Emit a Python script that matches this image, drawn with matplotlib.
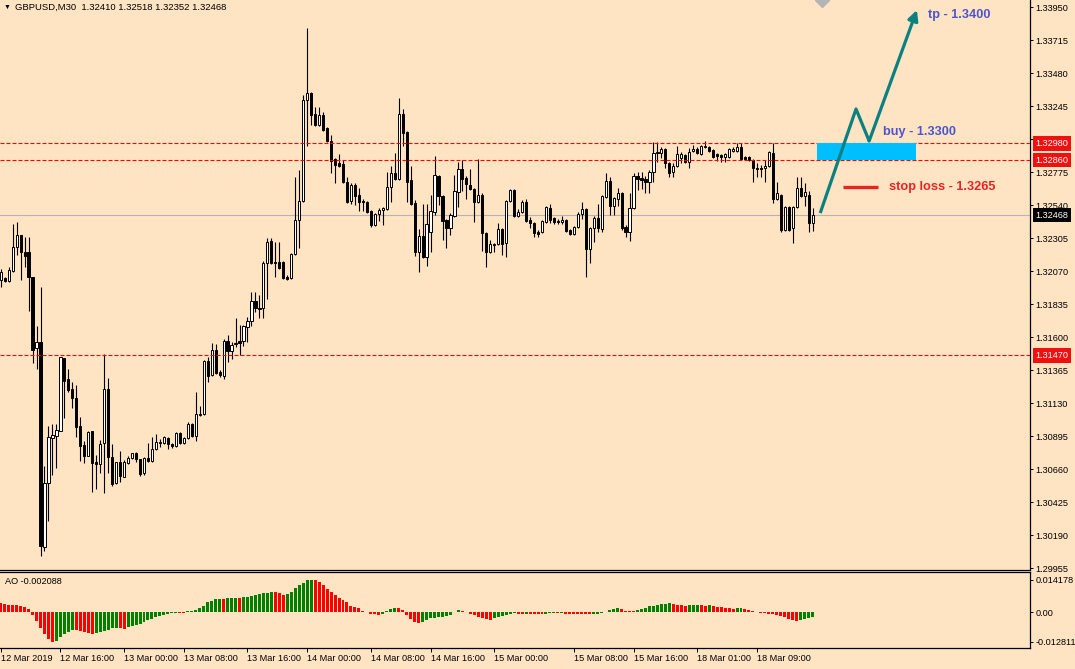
import numpy as np
import matplotlib
matplotlib.use('Agg')
import matplotlib.pyplot as plt
from matplotlib.transforms import blended_transform_factory

plt.rcParams['font.family'] = ['Liberation Sans', 'DejaVu Sans']

# GBPUSD M30 candles (oldest first)
opens = [
    1.32006, 1.32021, 1.31999, 1.32070, 1.32241, 1.32327, 1.32206, 1.32206, 1.32028, 1.31522,
    1.31565, 1.30105, 1.30561, 1.30881, 1.30896, 1.30931, 1.31451, 1.31302, 1.31230, 1.31166,
    1.30967, 1.30832, 1.30753, 1.30931, 1.30711, 1.30696, 1.30846, 1.31230, 1.30746, 1.30561,
    1.30711, 1.30604, 1.30703, 1.30739, 1.30775, 1.30732, 1.30632, 1.30739, 1.30718, 1.30803,
    1.30846, 1.30846, 1.30881, 1.30839, 1.30825, 1.30917, 1.30846, 1.30881, 1.30981, 1.30896,
    1.31045, 1.31052, 1.31430, 1.31330, 1.31508, 1.31351, 1.31323, 1.31572, 1.31501, 1.31551,
    1.31572, 1.31572, 1.31672, 1.31714, 1.31857, 1.31807, 1.31807, 1.32127, 1.32284, 1.32135,
    1.32135, 1.32135, 1.32028, 1.32021, 1.32192, 1.32434, 1.32569, 1.33288, 1.33338, 1.33188,
    1.33110, 1.33181, 1.33089, 1.32996, 1.32868,
    1.32839, 1.32832, 1.32704, 1.32569, 1.32683, 1.32612, 1.32569, 1.32562, 1.32498, 1.32398,
    1.32476, 1.32505, 1.32512, 1.32669, 1.32768, 1.32725, 1.33188, 1.33060, 1.32718, 1.32555,
    1.32206, 1.32320, 1.32170, 1.32348, 1.32491, 1.32747, 1.32604, 1.32434, 1.32377, 1.32462,
    1.32633, 1.32797, 1.32733, 1.32683, 1.32654, 1.32562, 1.32612, 1.32341, 1.32206, 1.32256,
    1.32263, 1.32370, 1.32270, 1.32569, 1.32647, 1.32462, 1.32491, 1.32562, 1.32434, 1.32412,
    1.32348, 1.32348, 1.32419, 1.32519, 1.32448, 1.32427, 1.32419, 1.32434, 1.32362, 1.32334,
    1.32384, 1.32476, 1.32512, 1.32227, 1.32377, 1.32448, 1.32370, 1.32597, 1.32711, 1.32533,
    1.32583, 1.32626, 1.32384, 1.32348, 1.32519, 1.32747, 1.32733, 1.32725, 1.32704, 1.32775,
    1.32911, 1.32911, 1.32939, 1.32839, 1.32775, 1.32818, 1.32875, 1.32896, 1.32847, 1.32925,
    1.32939, 1.32904, 1.32953, 1.32953, 1.32932, 1.32904, 1.32896, 1.32882, 1.32882, 1.32925,
    1.32925, 1.32953, 1.32882, 1.32882, 1.32861, 1.32804, 1.32804, 1.32804, 1.32818, 1.32911,
    1.32583, 1.32612, 1.32362, 1.32526, 1.32377, 1.32526, 1.32661, 1.32604, 1.32612, 1.32410,
]
highs = [
    1.32085, 1.32028, 1.32099, 1.32405, 1.32419, 1.32327, 1.32313, 1.32313, 1.32028, 1.31679,
    1.31957, 1.30682, 1.30967, 1.30981, 1.30981, 1.31458, 1.31451, 1.31373, 1.31280, 1.31259,
    1.31031, 1.30860, 1.30931, 1.30931, 1.30760, 1.30867, 1.31480, 1.31309, 1.30839, 1.30711,
    1.30789, 1.30725, 1.30753, 1.30775, 1.30782, 1.30732, 1.30746, 1.30846, 1.30889, 1.30910,
    1.30874, 1.30896, 1.30889, 1.30846, 1.30924, 1.30924, 1.30889, 1.30995, 1.30988, 1.31209,
    1.31109, 1.31437, 1.31458, 1.31558, 1.31551, 1.31366, 1.31586, 1.31615, 1.31565, 1.31736,
    1.31686, 1.31686, 1.31743, 1.31921, 1.31921, 1.31900, 1.32142, 1.32305, 1.32305, 1.32277,
    1.32277, 1.32142, 1.32042, 1.32199, 1.32740, 1.32790, 1.33324, 1.33801, 1.33345, 1.33238,
    1.33238, 1.33203, 1.33096, 1.33039, 1.32875,
    1.32904, 1.32861, 1.32740, 1.32697, 1.32697, 1.32661, 1.32583, 1.32569, 1.32505, 1.32483,
    1.32519, 1.32526, 1.32775, 1.32818, 1.32911, 1.33302, 1.33224, 1.33067, 1.32818, 1.32576,
    1.32370, 1.32548, 1.32548, 1.32612, 1.32889, 1.32754, 1.32612, 1.32441, 1.32483, 1.32754,
    1.32847, 1.32861, 1.32747, 1.32797, 1.32661, 1.32868, 1.32626, 1.32348, 1.32291, 1.32270,
    1.32412, 1.32377, 1.32576, 1.32654, 1.32654, 1.32512, 1.32576, 1.32583, 1.32455, 1.32419,
    1.32362, 1.32434, 1.32533, 1.32548, 1.32455, 1.32441, 1.32462, 1.32441, 1.32370, 1.32391,
    1.32491, 1.32562, 1.32519, 1.32384, 1.32462, 1.32548, 1.32612, 1.32768, 1.32740, 1.32597,
    1.32661, 1.32633, 1.32398, 1.32626, 1.32768, 1.32775, 1.32775, 1.32747, 1.32790, 1.32989,
    1.32989, 1.32953, 1.32946, 1.32847, 1.32839, 1.32960, 1.32918, 1.32904, 1.32946, 1.32968,
    1.32953, 1.32968, 1.32996, 1.32960, 1.32939, 1.32911, 1.32904, 1.32911, 1.32946, 1.32953,
    1.32982, 1.32982, 1.32889, 1.32889, 1.32868, 1.32839, 1.32825, 1.32861, 1.32925, 1.32982,
    1.32704, 1.32619, 1.32533, 1.32533, 1.32533, 1.32740, 1.32740, 1.32697, 1.32640, 1.32518,
]
lows = [
    1.31957, 1.31992, 1.31992, 1.32063, 1.32184, 1.32006, 1.32099, 1.31786, 1.31415, 1.31373,
    1.30041, 1.30077, 1.30290, 1.30618, 1.30668, 1.30931, 1.31024, 1.31209, 1.31095, 1.30889,
    1.30718, 1.30703, 1.30753, 1.30497, 1.30518, 1.30632, 1.30490, 1.30632, 1.30540, 1.30554,
    1.30568, 1.30604, 1.30696, 1.30732, 1.30711, 1.30611, 1.30618, 1.30711, 1.30711, 1.30796,
    1.30817, 1.30839, 1.30803, 1.30810, 1.30817, 1.30839, 1.30839, 1.30874, 1.30889, 1.30860,
    1.31038, 1.31045, 1.31280, 1.31323, 1.31337, 1.31316, 1.31302, 1.31423, 1.31444, 1.31529,
    1.31472, 1.31537, 1.31565, 1.31679, 1.31779, 1.31736, 1.31736, 1.31871, 1.32120, 1.32028,
    1.32085, 1.32013, 1.32006, 1.32013, 1.32184, 1.32234, 1.32562, 1.32960, 1.33110, 1.33103,
    1.33103, 1.33067, 1.32989, 1.32768, 1.32697,
    1.32811, 1.32697, 1.32555, 1.32548, 1.32540, 1.32498, 1.32498, 1.32483, 1.32384, 1.32391,
    1.32427, 1.32398, 1.32505, 1.32562, 1.32718, 1.32718, 1.32960, 1.32562, 1.32540, 1.32177,
    1.32063, 1.32163, 1.32106, 1.32206, 1.32469, 1.32540, 1.32291, 1.32234, 1.32327, 1.32455,
    1.32526, 1.32640, 1.32583, 1.32647, 1.32419, 1.32555, 1.32213, 1.32099, 1.32199, 1.32206,
    1.32256, 1.32184, 1.32170, 1.32562, 1.32455, 1.32455, 1.32483, 1.32419, 1.32377, 1.32313,
    1.32313, 1.32341, 1.32412, 1.32412, 1.32405, 1.32405, 1.32405, 1.32348, 1.32327, 1.32327,
    1.32377, 1.32441, 1.32028, 1.32127, 1.32277, 1.32348, 1.32348, 1.32590, 1.32469, 1.32469,
    1.32533, 1.32362, 1.32313, 1.32284, 1.32512, 1.32647, 1.32654, 1.32626, 1.32626, 1.32704,
    1.32847, 1.32875, 1.32804, 1.32740, 1.32740, 1.32811, 1.32839, 1.32839, 1.32804, 1.32918,
    1.32904, 1.32896, 1.32946, 1.32918, 1.32875, 1.32854, 1.32847, 1.32847, 1.32875, 1.32918,
    1.32918, 1.32861, 1.32861, 1.32854, 1.32704, 1.32740, 1.32740, 1.32704, 1.32811, 1.32555,
    1.32576, 1.32348, 1.32355, 1.32355, 1.32270, 1.32519, 1.32597, 1.32533, 1.32348, 1.32352,
]
closes = [
    1.32063, 1.31999, 1.32078, 1.32241, 1.32327, 1.32206, 1.32177, 1.32028, 1.31508, 1.31565,
    1.30113, 1.30561, 1.30889, 1.30903, 1.30938, 1.31458, 1.31287, 1.31223, 1.31166, 1.30960,
    1.30825, 1.30753, 1.30924, 1.30703, 1.30696, 1.30839, 1.31230, 1.30746, 1.30554, 1.30711,
    1.30611, 1.30711, 1.30739, 1.30775, 1.30732, 1.30625, 1.30739, 1.30718, 1.30803, 1.30853,
    1.30853, 1.30889, 1.30839, 1.30825, 1.30917, 1.30846, 1.30881, 1.30981, 1.30896, 1.31052,
    1.31052, 1.31430, 1.31323, 1.31508, 1.31344, 1.31330, 1.31572, 1.31501, 1.31544, 1.31558,
    1.31558, 1.31679, 1.31714, 1.31857, 1.31807, 1.31800, 1.32127, 1.32277, 1.32127, 1.32127,
    1.32092, 1.32021, 1.32013, 1.32192, 1.32434, 1.32569, 1.33288, 1.33338, 1.33181, 1.33110,
    1.33181, 1.33074, 1.32996, 1.32854, 1.32825,
    1.32818, 1.32704, 1.32562, 1.32683, 1.32604, 1.32562, 1.32562, 1.32491, 1.32398, 1.32476,
    1.32505, 1.32519, 1.32669, 1.32768, 1.32725, 1.33188, 1.33053, 1.32704, 1.32548, 1.32206,
    1.32320, 1.32170, 1.32405, 1.32498, 1.32754, 1.32604, 1.32427, 1.32377, 1.32469, 1.32640,
    1.32797, 1.32725, 1.32690, 1.32654, 1.32562, 1.32612, 1.32341, 1.32206, 1.32263, 1.32263,
    1.32370, 1.32263, 1.32569, 1.32647, 1.32462, 1.32491, 1.32562, 1.32427, 1.32412, 1.32341,
    1.32334, 1.32427, 1.32526, 1.32434, 1.32419, 1.32419, 1.32434, 1.32355, 1.32334, 1.32384,
    1.32476, 1.32512, 1.32227, 1.32377, 1.32448, 1.32377, 1.32604, 1.32711, 1.32533, 1.32590,
    1.32626, 1.32377, 1.32348, 1.32519, 1.32747, 1.32725, 1.32718, 1.32704, 1.32775, 1.32911,
    1.32918, 1.32939, 1.32839, 1.32768, 1.32818, 1.32904, 1.32904, 1.32847, 1.32918, 1.32939,
    1.32911, 1.32960, 1.32960, 1.32925, 1.32882, 1.32889, 1.32882, 1.32904, 1.32939, 1.32939,
    1.32953, 1.32868, 1.32868, 1.32861, 1.32804, 1.32797, 1.32797, 1.32818, 1.32918, 1.32583,
    1.32626, 1.32362, 1.32526, 1.32362, 1.32526, 1.32661, 1.32604, 1.32633, 1.32412, 1.32468,
]

# Awesome Oscillator values, one per candle
ao = [
    0.00391, 0.00348, 0.00319, 0.00310, 0.00304, 0.00290, 0.00246, 0.00130, -0.00116, -0.00362,
    -0.00700, -0.00960, -0.01160, -0.012811, -0.01240, -0.01090, -0.00930, -0.00840, -0.00760, -0.00780,
    -0.00810, -0.00860, -0.00910, -0.00940, -0.00900, -0.00850, -0.00800, -0.00750, -0.00700, -0.00670,
    -0.00680, -0.00710, -0.00638, -0.00594, -0.00551, -0.00493, -0.00420, -0.00348, -0.00275, -0.00217,
    -0.00145, -0.00101, -0.00058, -0.00029, -0.00014, -0.00022, -0.00029, 0.00043, 0.00072, 0.00116,
    0.00174, 0.00261, 0.00435, 0.00507, 0.00565, 0.00594, 0.00587, 0.00609, 0.00623, 0.00638,
    0.00630, 0.00652, 0.00681, 0.00710, 0.00739, 0.00783, 0.00826, 0.00855, 0.00884, 0.00870,
    0.00826, 0.00754, 0.00783, 0.00870, 0.01043, 0.01188, 0.01290, 0.01390, 0.014178, 0.01410,
    0.01320, 0.01188, 0.01014, 0.00899, 0.00754, 0.00609, 0.00536, 0.00435, 0.00290, 0.00232,
    0.00174, 0.00072, 0.00014, -0.00058, -0.00087, -0.00101, -0.00058, 0.00043, 0.00145, 0.00203,
    0.00188, 0.00087, -0.00116, -0.00290, -0.00406, -0.00478, -0.00435, -0.00333, -0.00261, -0.00232,
    -0.00217, -0.00188, -0.00174, -0.00116, 0.00029, 0.00087, 0.00072, 0.00014, -0.00058, -0.00130,
    -0.00188, -0.00261, -0.00304, -0.00333, -0.00261, -0.00188, -0.00145, -0.00101, -0.00072, -0.00043,
    -0.00051, -0.00058, -0.00055, -0.00060, -0.00062, -0.00065, -0.00068, -0.00055, -0.00050, -0.00045,
    -0.00050, -0.00045, -0.00055, -0.00060, -0.00065, -0.00070, -0.00075, -0.00080, -0.00087, -0.00075,
    -0.00060, -0.00045, 0.00029, 0.00101, 0.00159, 0.00174, 0.00130, 0.00072, 0.00058, 0.00043,
    0.00087, 0.00130, 0.00203, 0.00261, 0.00290, 0.00319, 0.00348, 0.00377, 0.00391, 0.00362,
    0.00333, 0.00319, 0.00290, 0.00304, 0.00312, 0.00319, 0.00304, 0.00290, 0.00297, 0.00261,
    0.00232, 0.00217, 0.00203, 0.00174, 0.00159, 0.00167, 0.00174, 0.00145, 0.00116, 0.00058,
    0.00029, -0.00014, -0.00043, -0.00058, -0.00087, -0.00116, -0.00159, -0.00217, -0.00290, -0.00350,
    -0.00380, -0.00320, -0.00280, -0.00245, -0.002088,
]

date_pos = [0, 15, 31, 46, 62, 77, 93, 108, 124, 144, 159, 175, 190]
date_labels = ['12 Mar 2019', '12 Mar 16:00', '13 Mar 00:00', '13 Mar 08:00', '13 Mar 16:00',
               '14 Mar 00:00', '14 Mar 08:00', '14 Mar 16:00', '15 Mar 00:00', '15 Mar 08:00',
               '15 Mar 16:00', '18 Mar 01:00', '18 Mar 09:00']
price_ticks = [1.33950, 1.33715, 1.33480, 1.33245, 1.33010, 1.32775, 1.32540, 1.32305, 1.32070,
               1.31835, 1.31600, 1.31365, 1.31130, 1.30895, 1.30660, 1.30425, 1.30190, 1.29955]
ao_ticks = [0.014178, 0.0, -0.012811]
ao_tick_labels = ['0.014178', '0.00', '-0.012811']

red_levels = [1.32980, 1.32860, 1.31470]
last_price = 1.32468

# trade idea drawn on the chart
zone_x = [205, 230]
zone_y = [1.32860, 1.32980]
path_x = [205.9, 214.9, 218.2, 230.2]
path_y = [1.32483, 1.33224, 1.32996, 1.33929]
stop_x = [211.7, 220.3]
stop_y = 1.32670

bg = '#ffe4c4'
teal = '#0b8080'
fig = plt.figure(figsize=(10.75, 6.69), dpi=100, facecolor=bg)
ax = fig.add_axes([0.0, 0.148, 0.9581, 0.852], facecolor=bg)
ax2 = fig.add_axes([0.0, 0.0318, 0.9581, 0.1127], facecolor=bg)

o, h, l, c = (np.array(v) for v in (opens, highs, lows, closes))
x = np.arange(len(o))
bull = c >= o

# candles
ax.vlines(x, l, h, color='black', lw=0.8, zorder=3)
ax.bar(x, np.abs(c - o), bottom=np.minimum(o, c), width=0.55,
       color=np.where(bull, 'white', 'black'), edgecolor='black', linewidth=0.7, zorder=4)

ax.axhline(last_price, color='#b4b4b4', lw=0.8, zorder=2)
for lvl in red_levels:
    ax.axhline(lvl, color='#ff0000', lw=0.8, ls=(0, (3.6, 1.8)), zorder=5)

ax.fill_between(zone_x, zone_y[0], zone_y[1], color='#00bfff', lw=0, zorder=6)
ax.plot(path_x[:3], path_y[:3], color=teal, lw=2.3, solid_capstyle='butt', zorder=7)
ax.annotate('', xy=(path_x[3], path_y[3]), xytext=(path_x[2], path_y[2]),
            arrowprops=dict(arrowstyle='-|>', color=teal, lw=2.3, mutation_scale=15,
                            shrinkA=0, shrinkB=0), zorder=7)
ax.plot(stop_x, [stop_y, stop_y], color='#e82323', lw=2.4, solid_capstyle='butt', zorder=7)

ax.text(233.0, 1.33893, 'tp - 1.3400', color='#4d55cc', fontsize=9.2, fontweight='bold',
        va='center', ha='left', zorder=8)
ax.text(221.7, 1.33062, 'buy - 1.3300', color='#4d55cc', fontsize=9.2, fontweight='bold',
        va='center', ha='left', zorder=8)
ax.text(223.2, 1.32669, 'stop loss - 1.3265', color='#e82323', fontsize=9.2, fontweight='bold',
        va='center', ha='left', zorder=8)

# chart shift marker
ax.plot(206.4, 1.3400, marker='D', ms=7, color='#b4b4b4', zorder=6)

ax.set_xlim(-0.18, 258.6)
ax.set_ylim(1.299416, 1.3400)
ax.set_xticks([])
ax.yaxis.tick_right()
ax.set_yticks(price_ticks)
ax.set_yticklabels([f'{t:.5f}' for t in price_ticks])
ax.tick_params(axis='y', length=2.5, width=0.7, pad=1.5, labelsize=6.6, direction='out')
for s in ['left', 'top']:
    ax.spines[s].set_visible(False)
for s in ['right', 'bottom']:
    ax.spines[s].set_linewidth(0.9)

trans = blended_transform_factory(ax.transAxes, ax.transData)
for lvl in red_levels:
    ax.annotate(f'{lvl:.5f}', xy=(1, lvl), xycoords=trans, xytext=(4, 0),
                textcoords='offset points', color='white', fontsize=6.6, va='center', ha='left',
                bbox=dict(boxstyle='square,pad=0.3', fc='#f01010', ec='none'),
                annotation_clip=False, zorder=10)
ax.annotate(f'{last_price:.5f}', xy=(1, last_price), xycoords=trans, xytext=(4, 0),
            textcoords='offset points', color='white', fontsize=6.6, va='center', ha='left',
            bbox=dict(boxstyle='square,pad=0.3', fc='black', ec='none'),
            annotation_clip=False, zorder=10)

# header
fig.text(4 / 1075, 1 - 7.5 / 669, '▼', fontsize=5, va='center', ha='left')
fig.text(15 / 1075, 1 - 7.5 / 669,
         f'GBPUSD,M30  {opens[-1]:.5f} {highs[-1]:.5f} {lows[-1]:.5f} {closes[-1]:.5f}',
         fontsize=6.8, va='center', ha='left')

# Awesome Oscillator panel
a = np.array(ao)
xa = np.arange(len(a))
rising = np.r_[False, a[1:] > a[:-1]]
ax2.bar(xa, a, width=0.75, color=np.where(rising, '#008000', '#ff0000'), lw=0)
ax2.set_xlim(-0.18, 258.6)
ax2.set_ylim(-0.01539, 0.01739)
ax2.yaxis.tick_right()
ax2.set_yticks(ao_ticks)
ax2.set_yticklabels(ao_tick_labels)
ax2.tick_params(axis='y', length=2.5, width=0.7, pad=1.5, labelsize=6.6, direction='out')
ax2.set_xticks(date_pos)
ax2.set_xticklabels(date_labels)
ax2.tick_params(axis='x', length=3, width=0.7, pad=1.5, labelsize=6.6, direction='out')
for lbl in ax2.get_xticklabels():
    lbl.set_horizontalalignment('left')
ax2.spines['left'].set_visible(False)
for s in ['right', 'bottom', 'top']:
    ax2.spines[s].set_linewidth(0.9)
ax2.text(0.005, 0.885, f'AO {ao[-1]:.6f}', transform=ax2.transAxes, fontsize=6.6,
         va='center', ha='left')

fig.savefig('out.png', dpi=100, facecolor=bg)
